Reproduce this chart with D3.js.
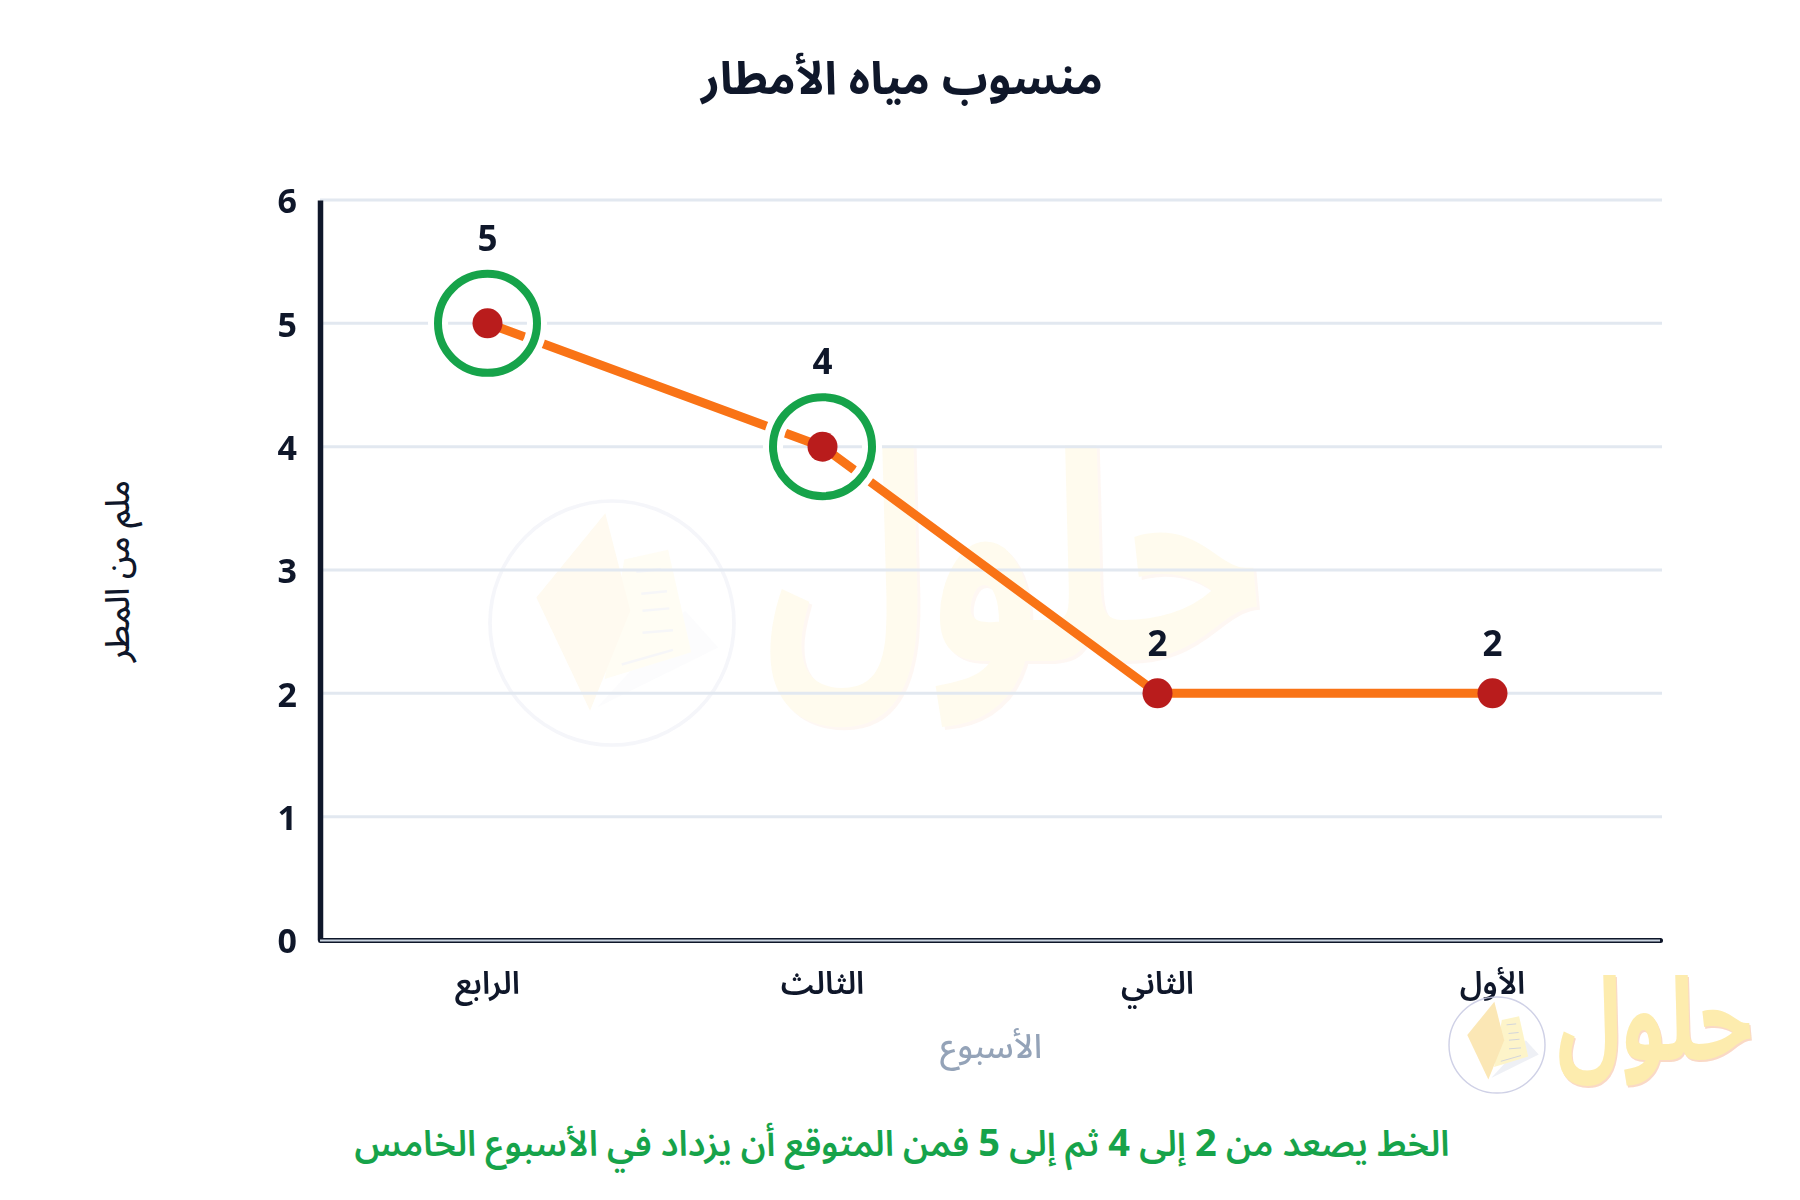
<!DOCTYPE html>
<html lang="ar">
<head>
<meta charset="utf-8">
<script src="https://cdn.jsdelivr.net/npm/d3@7"></script>
<style>
  html, body { margin: 0; background: #fff; }
  text { font-family: "Noto Sans", "Noto Sans Arabic", "DejaVu Sans", sans-serif; }
</style>
</head>
<body>
<div id="chart"></div>
<script>
const weeks = ["الرابع", "الثالث", "الثاني", "الأول"];
const rainfall = [5, 4, 2, 2];
const circled = ["الرابع", "الثالث"];
const yTicks = [0, 1, 2, 3, 4, 5, 6];

const titleText = "منسوب مياه الأمطار";
const xTitleText = "الأسبوع";
const yTitleText = "ملم من المطر";
const noteText = "الخط يصعد من 2 إلى 4 ثم إلى 5 فمن المتوقع أن يزداد في الأسبوع الخامس";
const logoText = "حلول";

const ink = "#0f172a", green = "#16a34a";

const margin = {top: 200, right: 140, bottom: 260, left: 320},
    width = 1800 - margin.left - margin.right,
    height = 1200 - margin.top - margin.bottom;

const root = d3.select("#chart")
  .append("svg")
    .attr("width", 1800)
    .attr("height", 1200);

// faded logo behind the plot and the small one in the corner
function drawLogo(cx, cy, r, opacity) {
  const s = r / 100;
  const logo = root.append("g")
    .attr("transform", `translate(${cx},${cy})`)
    .attr("opacity", opacity);
  logo.append("circle")
    .attr("r", r)
    .attr("fill", "none")
    .attr("stroke", "#c7c9e2")
    .attr("stroke-width", r * 0.03);
  const poly = pts => "M" + pts.map(p => `${p[0]*s},${p[1]*s}`).join("L") + "Z";
  logo.append("path")
    .attr("d", poly([[60,-10],[87,20],[-12,69]]))
    .attr("fill", "#eceef4");
  logo.append("path")
    .attr("d", poly([[10,-52],[46,-60],[65,24],[-6,46]]))
    .attr("fill", "#fdf3c0");
  logo.append("path")
    .attr("d", poly([[-5.5,-90],[-62,-21],[-18,72],[15,-10]]))
    .attr("fill", "#fbe3a8");
  logo.append("g")
    .attr("stroke", "#c9ccd6")
    .attr("stroke-width", r * 0.02)
    .selectAll("line")
    .data([[20,-42,40,-44], [24,-24,45,-26], [25,-10,47,-12], [25,8,50,6], [8,34,50,22]])
    .join("line")
      .attr("x1", d => d[0] * s)
      .attr("y1", d => d[1] * s)
      .attr("x2", d => d[2] * s)
      .attr("y2", d => d[3] * s);
  // pale pink copy under the word gives it the soft edge of the original
  [["#f9d3bd", r * 0.025], ["#fde9a0", 0]].forEach(([fill, shift]) => {
    logo.append("text")
      .attr("transform", `translate(${r * 1.25 + shift},${r * 0.3 + shift}) scale(0.76,1)`)
      .attr("font-size", r * 2.4)
      .attr("font-weight", 700)
      .attr("fill", fill)
      .attr("direction", "ltr")
      .attr("text-anchor", "start")
      .text(logoText);
  });
}
drawLogo(612, 623, 122, 0.18);

const svg = root.append("g")
  .attr("transform", `translate(${margin.left},${margin.top})`);

const x = d3.scaleBand().domain(weeks).range([0, width]);
const y = d3.scaleLinear().domain([0, 6]).range([height, 0]);
const cx = d => x(d) + x.bandwidth() / 2;

// grid
svg.append("g")
  .selectAll("line")
  .data(yTicks.filter(d => d > 0))
  .join("line")
    .attr("x1", 0)
    .attr("x2", width + 2)
    .attr("y1", d => y(d))
    .attr("y2", d => y(d))
    .attr("stroke", "#e2e8f0")
    .attr("stroke-width", 3);

// axes
const yAxis = svg.append("g")
  .call(d3.axisLeft(y).tickValues(yTicks).tickFormat(d3.format("d")).tickSize(0).tickPadding(23));
yAxis.select(".domain").attr("stroke", ink).attr("stroke-width", 5.5);
yAxis.selectAll("text")
  .attr("dy", "0.38em")
  .attr("font-size", 34)
  .attr("font-weight", 700)
  .attr("fill", ink);

const xAxis = svg.append("g")
  .attr("transform", `translate(0,${height})`)
  .call(d3.axisBottom(x).tickSize(0).tickPadding(32));
xAxis.select(".domain")
  .attr("stroke", ink)
  .attr("stroke-width", 5)
  .attr("stroke-linecap", "round");
// the x axis is a pale bar with a dark outline
xAxis.append("line")
  .attr("x1", 0)
  .attr("x2", width)
  .attr("y1", 0.5)
  .attr("y2", 0.5)
  .attr("stroke", "#cbd5e1")
  .attr("stroke-width", 2.2);
xAxis.selectAll("text")
  .attr("font-size", 31.5)
  .attr("font-weight", 600)
  .attr("fill", ink);

// line
const line = d3.line()
  .x(d => cx(d.week))
  .y(d => y(d.value));
const points = weeks.map((w, i) => ({week: w, value: rainfall[i]}));
const isCircled = d => circled.includes(d.week);

svg.append("path")
  .datum(points)
  .attr("fill", "none")
  .attr("stroke", "#f97316")
  .attr("stroke-width", 9)
  .attr("d", line);

// rings with a white halo so the line breaks around them
const rings = svg.append("g")
  .selectAll("g")
  .data(points.filter(isCircled))
  .join("g")
    .attr("transform", d => `translate(${cx(d.week)},${y(d.value)})`);
rings.append("circle")
  .attr("r", 49.5)
  .attr("fill", "none")
  .attr("stroke", "#fff")
  .attr("stroke-width", 20);
rings.append("circle")
  .attr("r", 49.5)
  .attr("fill", "none")
  .attr("stroke", green)
  .attr("stroke-width", 8);

svg.append("g")
  .selectAll("circle")
  .data(points)
  .join("circle")
    .attr("cx", d => cx(d.week))
    .attr("cy", d => y(d.value))
    .attr("r", 15)
    .attr("fill", "#b91c1c");

// value labels, pushed clear of the rings
svg.append("g")
  .selectAll("text")
  .data(points)
  .join("text")
    .attr("x", d => cx(d.week))
    .attr("y", d => y(d.value) - (isCircled(d) ? 85 : 50))
    .attr("dy", "0.36em")
    .attr("text-anchor", "middle")
    .attr("font-size", 35)
    .attr("font-weight", 700)
    .attr("fill", ink)
    .text(d => d.value);

// titles
root.append("text")
  .attr("x", 902)
  .attr("y", 78)
  .attr("dy", "0.35em")
  .attr("text-anchor", "middle")
  .attr("font-size", 45.6)
  .attr("font-weight", 700)
  .attr("fill", ink)
  .text(titleText);

root.append("text")
  .attr("x", 991)
  .attr("y", 1046)
  .attr("dy", "0.35em")
  .attr("text-anchor", "middle")
  .attr("font-size", 33.5)
  .attr("font-weight", 500)
  .attr("fill", "#94a3b8")
  .text(xTitleText);

root.append("text")
  .attr("transform", "translate(117,571) rotate(-90)")
  .attr("dy", "0.35em")
  .attr("text-anchor", "middle")
  .attr("font-size", 33)
  .attr("font-weight", 500)
  .attr("fill", ink)
  .text(yTitleText);

// digits in the note are set a little larger
root.append("text")
  .attr("x", 902)
  .attr("y", 1144)
  .attr("dy", "0.35em")
  .attr("text-anchor", "middle")
  .attr("direction", "rtl")
  .attr("font-size", 35.4)
  .attr("font-weight", 600)
  .attr("fill", green)
  .selectAll("tspan")
  .data(noteText.split(/(\d)/))
  .join("tspan")
    .attr("font-size", d => /\d/.test(d) ? 38 : null)
    .attr("font-weight", d => /\d/.test(d) ? 700 : null)
    .text(d => d);

drawLogo(1497, 1045, 48, 0.85);
</script>
</body>
</html>
